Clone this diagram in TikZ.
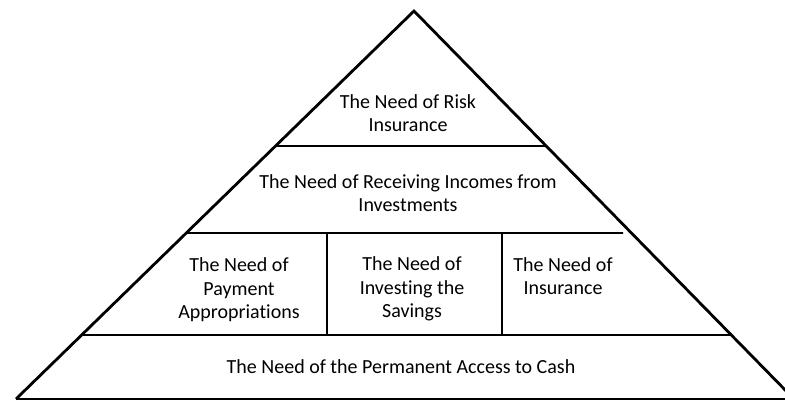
\documentclass[tikz,border=0pt]{standalone}
\usepackage{fontspec}
\setmainfont[Ligatures=CommonOff]{Carlito}
\usetikzlibrary{calc}

\begin{document}
\begin{tikzpicture}
  [x=1pt,y=-1pt,
   side/.style={line width=2.8pt,line join=miter},
   divider/.style={line width=1.8pt},
   every node/.style={align=center,inner sep=0pt,font=\fontsize{20}{23.5}\selectfont}]
  \useasboundingbox (0,0) rectangle (785,400);
  \clip (0,0) rectangle (785,400);

  % pyramid corners
  \coordinate (top) at (414,11);
  \coordinate (bl) at (16,399);
  \coordinate (br) at (794,399);

  % dividers
  \coordinate (a1) at ($(top)!0.348!(bl)$);
  \coordinate (a2) at ($(top)!0.348!(br)$);
  \coordinate (b1) at ($(top)!0.572!(bl)$);
  \coordinate (b2) at (623,233);
  \coordinate (c1) at ($(top)!0.835!(bl)$);
  \coordinate (c2) at ($(top)!0.835!(br)$);
  \coordinate (v1) at (327,233);
  \coordinate (v2) at (327,335);
  \coordinate (w1) at (502,233);
  \coordinate (w2) at (502,335);

  \node (nrisk) at (408,113) {The Need of Risk\\Insurance};
  \node (nincome) at (408,193) {The Need of Receiving Incomes from\\Investments};
  \node (npay) at (239,290) {The Need of\\Payment\\Appropriations};
  \node (ninvest) at (412,289) {The Need of\\Investing the\\Savings};
  \node (nins) at (563,276) {The Need of\\Insurance};
  \node (ncash) at (401,367) {The Need of the Permanent Access to Cash};

  \draw[divider] (a1) -- (a2);
  \draw[divider] (b1) -- (b2);
  \draw[divider] (c1) -- (c2);
  \draw[divider] (v1) -- (v2);
  \draw[divider] (w1) -- (w2);
  \draw[divider] (bl) -- (br);
  \draw[side] (bl) -- (top) -- (br);

\end{tikzpicture}
\end{document}
